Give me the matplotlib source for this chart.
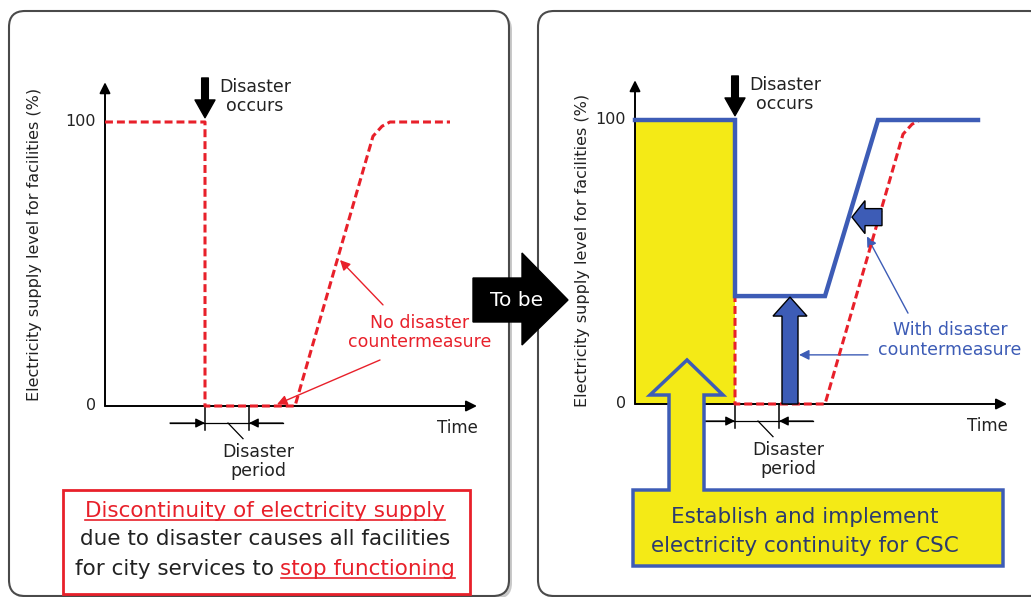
import matplotlib
matplotlib.use('Agg')
import matplotlib.pyplot as plt
from matplotlib.patches import FancyBboxPatch, Polygon, Rectangle

plt.rcParams['font.family'] = ['DejaVu Sans']

W, H = 1031, 597
RED = '#e8202a'
BLUE = '#3d5cb6'
YELLOW = '#f4ea16'
INK = '#222222'
NAVY = '#2c3b6e'

# time (arbitrary units) vs electricity supply level (%)
t_none = [0, 100, 100, 190, 268, 277, 285, 345]
lvl_none = [100, 100, 0, 0, 95, 98.5, 100, 100]
t_with = [0, 100, 100, 190, 243, 343]
lvl_with = [100, 100, 38, 38, 100, 100]
t_disaster = 100
t_period_end = 144
t_backup = 155
t_end = 372
lvl_top = 114
yticks = [0, 100]
ylabel = 'Electricity supply level for facilities (%)'

fig = plt.figure(figsize=(W / 100, H / 100), dpi=100)


def pixel_axes(z):
    a = fig.add_axes([0, 0, 1, 1], zorder=z)
    a.set_xlim(0, W)
    a.set_ylim(H, 0)
    a.axis('off')
    return a


def chart_axes(x0, y0):
    a = fig.add_axes([x0 / W, (H - y0) / H, t_end / W, lvl_top * 2.84 / H], zorder=1)
    a.set_xlim(0, t_end)
    a.set_ylim(0, lvl_top)
    a.axis('off')
    return a


bg = pixel_axes(0)
ax1 = chart_axes(105, 406)
ax2 = chart_axes(635, 404)
fg = pixel_axes(2)


def px(ax, t, lvl):
    return fg.transData.inverted().transform(ax.transData.transform((t, lvl)))


# panels
for x0, x1 in [(9, 509), (538, 1045)]:
    bg.add_patch(FancyBboxPatch((x0 + 3, 14), x1 - x0, 585, boxstyle='round,pad=0,rounding_size=16',
                                fc='#c9c9c9', ec='none'))
    bg.add_patch(FancyBboxPatch((x0, 11), x1 - x0, 585, boxstyle='round,pad=0,rounding_size=16',
                                fc='white', ec='#4a4a4a', lw=1.5))

axis_arrow = dict(arrowstyle='-|>', color='k', lw=1.4, mutation_scale=16, shrinkA=0, shrinkB=0)
thin = dict(arrowstyle='-|>', color='k', lw=0.9, mutation_scale=14, shrinkA=0, shrinkB=0)


def draw_frame(ax, lab_t, lab_lvl):
    ax.annotate('', xy=(t_end, 0), xytext=(0, 0), arrowprops=axis_arrow, annotation_clip=False)
    ax.annotate('', xy=(0, lvl_top), xytext=(0, 0), arrowprops=axis_arrow, annotation_clip=False)
    for v in yticks:
        ax.text(-9, v, str(v), ha='right', va='center', fontsize=11.5, color=INK)
    ax.text(lab_t, lab_lvl, ylabel, rotation=90, ha='center', va='center', fontsize=11.5, color=INK)
    ax.text(352, -7.7, 'Time', ha='center', va='center', fontsize=12, color=INK)
    # disaster occurs
    ax.annotate('', xy=(t_disaster, 101.5), xytext=(t_disaster, 115.5),
                arrowprops=dict(arrowstyle='simple,head_length=0.8,head_width=0.9,tail_width=0.3',
                                fc='k', ec='k', mutation_scale=16, shrinkA=0, shrinkB=0),
                annotation_clip=False)
    ax.text(t_disaster + 50, 109, 'Disaster\noccurs', ha='center', va='center', fontsize=12.5,
            color=INK, linespacing=1.1)
    # disaster period
    for t in (t_disaster, t_period_end):
        ax.plot([t, t], [0, -8.5], color='k', lw=1.1, clip_on=False)
    ax.plot([t_disaster - 35, t_period_end + 34], [-6, -6], color='k', lw=0.9, clip_on=False)
    ax.annotate('', xy=(t_disaster, -6), xytext=(t_disaster - 35, -6), arrowprops=thin, annotation_clip=False)
    ax.annotate('', xy=(t_period_end, -6), xytext=(t_period_end + 34, -6), arrowprops=thin,
                annotation_clip=False)
    ax.plot([t_disaster + 23, t_disaster + 38], [-6, -11.5], color='k', lw=0.9, clip_on=False)
    ax.text(t_disaster + 53, -19.6, 'Disaster\nperiod', ha='center', va='center', fontsize=12.5,
            color=INK, linespacing=1.1)


# left chart: no countermeasure
draw_frame(ax1, -70, 57)
ax1.plot(t_none, lvl_none, color=RED, lw=2.2, dashes=(2.6, 1.3), clip_on=False, zorder=4)
red_arrow = dict(arrowstyle='-|>', color=RED, lw=1.0, mutation_scale=15, shrinkA=0, shrinkB=0)
ax1.annotate('', xy=(235, 51.4), xytext=(278, 35.6), arrowprops=red_arrow, annotation_clip=False)
ax1.annotate('', xy=(172, 0.6), xytext=(275, 16.2), arrowprops=red_arrow, annotation_clip=False)
ax1.text(315, 26, 'No disaster\ncountermeasure', ha='center', va='center', fontsize=12.5, color=RED,
         linespacing=1.05)

# right chart: with countermeasure
ax2.fill_between(t_with[:2], 0, lvl_with[:2], color=YELLOW, lw=0, zorder=1)
draw_frame(ax2, -53, 54)
ax2.plot(t_none, lvl_none, color=RED, lw=2.2, dashes=(2.6, 1.3), clip_on=False, zorder=4)
ax2.plot(t_with, lvl_with, color=BLUE, lw=3.2, solid_joinstyle='miter', clip_on=False, zorder=5)
blue_arrow = dict(arrowstyle='-|>', color=BLUE, lw=1.0, mutation_scale=15, shrinkA=0, shrinkB=0)
ax2.annotate('', xy=(232, 59), xytext=(273, 32), arrowprops=blue_arrow, annotation_clip=False)
ax2.annotate('', xy=(164, 17.3), xytext=(233, 17.3), arrowprops=blue_arrow, annotation_clip=False)
ax2.text(315, 22.5, 'With disaster\ncountermeasure', ha='center', va='center', fontsize=12.5,
         color=BLUE, linespacing=1.15)

# block arrows on the right chart
bx, by = px(ax2, t_backup, 0)
tx, ty = px(ax2, t_backup, lvl_with[2])
fg.add_patch(Polygon([(bx - 8, by), (bx - 8, ty + 20), (bx - 17, ty + 20), (bx, ty + 1),
                      (bx + 17, ty + 20), (bx + 8, ty + 20), (bx + 8, by)],
                     closed=True, fc=BLUE, ec='k', lw=1.0))
lx, ly = px(ax2, 217, 65.8)
fg.add_patch(Polygon([(lx, ly), (lx + 13, ly - 16.5), (lx + 13, ly - 8.5), (lx + 30, ly - 8.5),
                      (lx + 30, ly + 8.5), (lx + 13, ly + 8.5), (lx + 13, ly + 16.5)],
                     closed=True, fc=BLUE, ec='k', lw=1.0))

# yellow box with the big up arrow
fg.add_patch(Polygon([(633, 566), (633, 490), (669, 490), (669, 395), (650, 395), (687, 360),
                      (723, 395), (704, 395), (704, 490), (1003, 490), (1003, 566)],
                     closed=True, fc=YELLOW, ec=BLUE, lw=2.5, joinstyle='miter'))

# "To be" arrow
fg.add_patch(Polygon([(473, 278), (522, 278), (522, 253), (568, 300), (522, 345), (522, 322),
                      (473, 322)], closed=True, fc='black', ec='black'))
fg.text(517, 300, 'To be', ha='center', va='center', fontsize=14.5, color='white')

# red message box
fg.add_patch(Rectangle((63, 490), 407, 104, fc='white', ec=RED, lw=2))

renderer = fig.canvas.get_renderer()


def text_width(t):
    return t.get_window_extent(renderer).width


def rich_line(xc, y, parts, fs):
    probe = fg.text(0, 0, 'a a', fontsize=fs)
    probe2 = fg.text(0, 0, 'aa', fontsize=fs)
    space = text_width(probe) - text_width(probe2)
    probe.remove()
    probe2.remove()
    items = []
    for s, c, u in parts:
        t = fg.text(0, y, s, color=c, fontsize=fs, ha='left', va='baseline')
        items.append((t, text_width(t), c, u))
    total = sum(w for _, w, _, _ in items) + space * (len(items) - 1)
    x = xc - total / 2
    for t, w, c, u in items:
        t.set_x(x)
        if u:
            fg.plot([x, x + w], [y + 2.5, y + 2.5], color=c, lw=1.2)
        x += w + space


rich_line(265, 517, [('Discontinuity of electricity supply', RED, True)], 15.5)
rich_line(265, 545, [('due to disaster causes all facilities', INK, False)], 15.5)
rich_line(265, 575, [('for city services to', INK, False), ('stop functioning', RED, True)], 15.5)

rich_line(805, 523, [('Establish and implement', NAVY, False)], 15.5)
rich_line(805, 552, [('electricity continuity for CSC', NAVY, False)], 15.5)

fig.savefig('out.png', dpi=100)
